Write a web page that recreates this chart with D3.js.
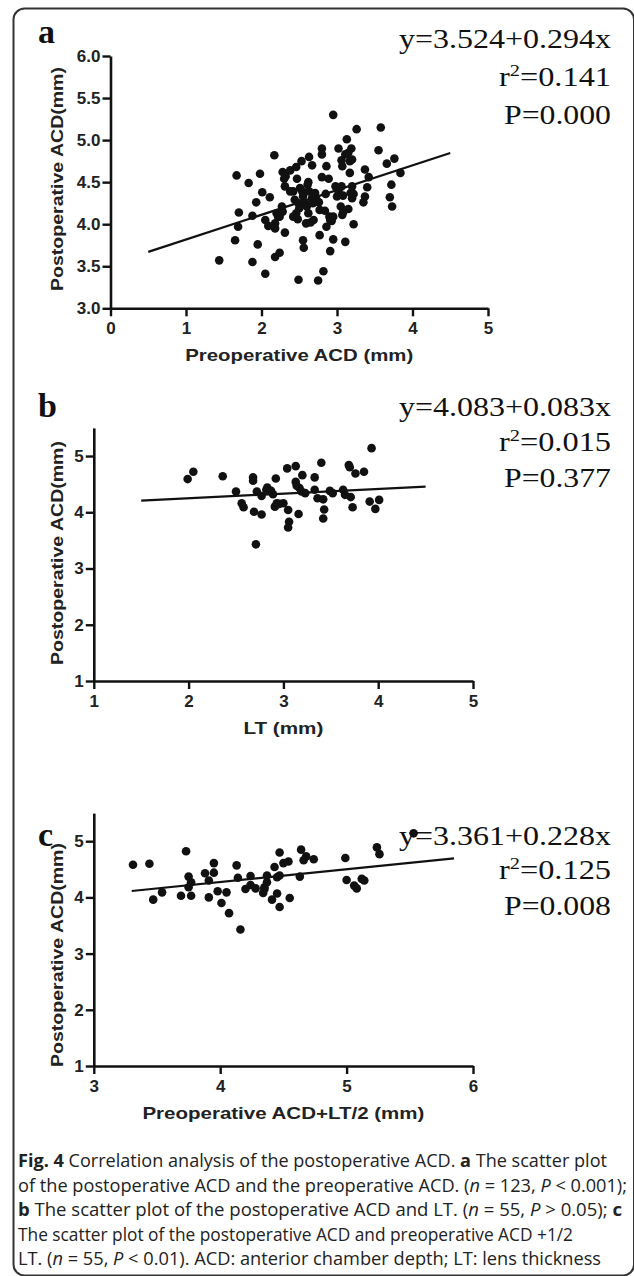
<!DOCTYPE html>
<html><head><meta charset="utf-8">
<script src="https://cdn.jsdelivr.net/npm/d3@7"></script>
<style>html,body{margin:0;padding:0;background:#fff;} svg{display:block;}</style>
</head><body>
<svg id="chart" width="634" height="1276"></svg>
<script>
// ---------- Panel a: Preoperative ACD vs Postoperative ACD ----------
const aX = [1.44,1.67,1.70,1.69,1.65,1.83,1.88,1.88,1.93,1.95,1.98,2.01,2.05,2.05,2.11,2.09,2.17,2.18,2.18,2.18,
  2.24,2.20,2.27,2.28,2.24,2.31,2.28,2.30,2.31,2.38,2.32,2.46,2.47,2.53,2.63,2.67,2.51,2.54,2.55,2.44,
  2.49,2.46,2.48,2.49,2.55,2.56,2.59,2.62,2.63,2.62,2.65,2.67,2.73,2.76,2.80,2.80,2.80,2.77,2.77,2.75,
  2.82,2.86,2.89,2.85,2.86,2.90,2.91,2.95,2.95,2.95,2.98,3.02,3.02,3.06,3.05,3.07,3.06,3.07,3.11,3.13,
  3.11,3.15,3.17,3.19,3.20,3.18,3.20,3.22,3.26,3.20,3.35,3.37,3.37,3.40,3.42,3.55,3.58,3.66,3.76,3.72,
  3.70,3.73,3.84,2.60,2.42,2.58,2.68,2.71,2.61,2.50,2.38,3.08,3.22,3.00,2.84,2.93,3.08,3.17,3.15,2.91,
  2.42,2.22,2.69];
const aY = [3.57,4.58,4.14,3.97,3.81,4.49,4.10,3.55,4.26,3.76,4.60,4.38,4.05,3.41,4.32,3.98,4.82,4.01,3.95,3.61,
  3.66,4.13,4.21,4.15,4.09,3.90,4.62,4.54,4.45,4.64,4.57,4.68,4.54,4.75,4.80,4.70,4.43,4.39,4.33,4.29,
  4.25,4.13,4.06,3.34,3.81,3.72,4.01,4.50,4.39,4.13,4.02,4.31,4.29,4.26,4.90,4.83,4.56,4.17,3.87,3.33,
  3.44,4.69,4.54,4.36,3.97,4.09,3.68,5.30,4.09,3.82,4.45,4.90,4.39,4.45,4.21,4.11,4.76,4.69,4.83,5.01,
  3.79,4.18,4.61,4.90,4.77,4.37,4.31,4.00,5.13,4.45,4.26,4.33,4.65,4.44,4.56,4.88,5.15,4.72,4.78,4.47,
  4.32,4.21,4.61,4.21,4.39,4.25,4.25,4.37,4.47,4.19,4.39,4.34,4.36,4.33,4.16,4.04,4.14,4.75,4.85,4.05,
  4.09,4.09,4.05];
const aFit = [3.524, 0.294];      // intercept, slope
const aFitRange = [0.5, 4.5];
const aXTicks = [0,1,2,3,4,5];
const aYTicks = [3.0,3.5,4.0,4.5,5.0,5.5,6.0];
const aStats = ["y=3.524+0.294x", "0.141", "P=0.000"];

// ---------- Panel b: LT vs Postoperative ACD ----------
const bX = [1.99,2.05,2.36,2.50,2.56,2.58,2.68,2.68,2.69,2.71,2.72,2.77,2.77,2.83,2.87,2.89,2.92,2.91,2.93,2.96,
  3.00,3.04,3.05,3.06,3.05,3.13,3.13,3.16,3.17,3.20,3.19,3.23,3.33,3.33,3.36,3.40,3.42,3.43,3.42,3.49,
  3.52,3.63,3.65,3.69,3.70,3.71,3.73,3.76,3.85,3.91,3.93,3.97,4.01,3.14,2.82];
const bY = [4.59,4.72,4.64,4.37,4.16,4.09,4.62,4.56,4.01,3.43,4.37,4.29,3.96,4.44,4.38,4.32,4.60,4.10,4.16,4.15,
  4.16,4.78,4.04,3.83,3.73,4.82,4.54,3.97,4.43,4.66,4.37,4.34,4.62,4.40,4.25,4.88,4.23,4.05,3.89,4.38,
  4.34,4.40,4.31,4.84,4.80,4.27,4.09,4.69,4.72,4.19,5.14,4.06,4.22,4.47,4.40];
const bFit = [4.083, 0.083];
const bFitRange = [1.5, 4.5];
const bXTicks = [1,2,3,4,5];
const bYTicks = [1,2,3,4,5];
const bStats = ["y=4.083+0.083x", "0.015", "P=0.377"];

// ---------- Panel c: Preoperative ACD+LT/2 vs Postoperative ACD ----------
const cX = [3.31,3.44,3.47,3.54,3.69,3.73,3.75,3.75,3.77,3.77,3.88,3.91,3.91,3.95,3.95,3.98,4.01,4.05,4.07,4.13,
  4.14,4.16,4.20,4.24,4.24,4.28,4.34,4.35,4.37,4.37,4.41,4.43,4.45,4.45,4.47,4.47,4.47,4.50,4.54,4.55,
  4.63,4.64,4.66,4.68,4.74,4.99,5.00,5.06,5.08,5.12,5.14,5.24,5.26,5.53,4.35];
const cY = [4.58,4.60,3.96,4.09,4.03,4.82,4.37,4.18,4.03,4.27,4.43,4.30,4.00,4.61,4.44,4.11,3.90,4.09,3.72,4.57,
  4.35,3.43,4.15,4.38,4.22,4.16,4.08,4.18,4.27,4.39,3.96,4.54,4.36,4.07,4.80,3.83,4.39,4.61,4.64,3.99,
  4.37,4.85,4.66,4.73,4.68,4.70,4.31,4.21,4.16,4.33,4.30,4.89,4.77,5.14,4.15];
const cFit = [3.361, 0.228];
const cFitRange = [3.3, 5.85];
const cXTicks = [3,4,5,6];
const cYTicks = [1,2,3,4,5];
const cStats = ["y=3.361+0.228x", "0.125", "P=0.008"];

const yTitle = "Postoperative ACD(mm)";
const caption = [
  [["Fig. 4", "b"], [" Correlation analysis of the postoperative ACD. ", ""], ["a", "b"], [" The scatter plot", ""]],
  [["of the postoperative ACD and the preoperative ACD. (", ""], ["n", "i"], [" = 123, ", ""], ["P", "i"], [" < 0.001);", ""]],
  [["b", "b"], [" The scatter plot of the postoperative ACD and LT. (", ""], ["n", "i"], [" = 55, ", ""], ["P", "i"], [" > 0.05); ", ""], ["c", "b"]],
  [["The scatter plot of the postoperative ACD and preoperative ACD +1/2", ""]],
  [["LT. (", ""], ["n", "i"], [" = 55, ", ""], ["P", "i"], [" < 0.01). ACD: anterior chamber depth; LT: lens thickness", ""]]
];
const captionWidths = [589, 609, 604, 555, 583];

// ---------- drawing ----------
const svg = d3.select("#chart");
svg.append("rect").attr("x", 13.5).attr("y", 8.5).attr("width", 620.5).attr("height", 1267)
  .attr("rx", 11).attr("fill", "none").attr("stroke", "#333").attr("stroke-width", 2);

const sans = "'Liberation Sans', Arial, sans-serif";
const serif = "'Liberation Serif', 'Times New Roman', serif";

function panel(o) {
  const g = svg.append("g");
  const x = d3.scaleLinear().domain(o.xDomain).range(o.xRange);
  const y = d3.scaleLinear().domain(o.yDomain).range(o.yRange);

  const ya = g.append("g").attr("transform", `translate(${o.xRange[0]},0)`)
    .call(d3.axisLeft(y).tickValues(o.yTicks).tickSize(8).tickSizeOuter(0).tickPadding(2).tickFormat(o.yFmt));
  const xa = g.append("g").attr("transform", `translate(0,${o.yRange[0]})`)
    .call(d3.axisBottom(x).tickValues(o.xTicks).tickSize(8).tickSizeOuter(0).tickPadding(6).tickFormat(d3.format("d")));
  [ya, xa].forEach(a => {
    a.select(".domain").attr("stroke", "#111").attr("stroke-width", 2.6);
    a.selectAll(".tick line").attr("stroke", "#111").attr("stroke-width", 2.4);
    a.selectAll(".tick text").attr("fill", "#222").style("font-family", sans)
      .style("font-weight", "bold").style("font-size", "17px");
  });

  // points
  g.append("g").selectAll("circle").data(o.xs.map((v, i) => [v, o.ys[i]])).join("circle")
    .attr("cx", d => x(d[0])).attr("cy", d => y(d[1])).attr("r", 4.3).attr("fill", "#111");

  // regression line
  g.append("line")
    .attr("x1", x(o.fitRange[0])).attr("y1", y(o.fit[0] + o.fit[1] * o.fitRange[0]))
    .attr("x2", x(o.fitRange[1])).attr("y2", y(o.fit[0] + o.fit[1] * o.fitRange[1]))
    .attr("stroke", "#111").attr("stroke-width", 2.2);

  // axis titles
  g.append("text").attr("transform", `translate(63,${o.yTitleC}) rotate(-90)`)
    .attr("text-anchor", "middle").attr("fill", "#222")
    .style("font-family", sans).style("font-weight", "bold").style("font-size", "17px")
    .attr("textLength", 224).attr("lengthAdjust", "spacingAndGlyphs").text(yTitle);
  const xmid = (o.xRange[0] + o.xRange[1]) / 2;
  g.append("text").attr("x", xmid).attr("y", o.yRange[0] + 53)
    .attr("text-anchor", "middle").attr("fill", "#222")
    .style("font-family", sans).style("font-weight", "bold").style("font-size", "17px")
    .attr("textLength", o.xTitleW).attr("lengthAdjust", "spacingAndGlyphs").text(o.xTitle);

  // panel letter
  g.append("text").attr("x", 38).attr("y", o.labelY).attr("fill", "#111")
    .style("font-family", serif).style("font-weight", "bold").style("font-size", "34px").text(o.label);

  // stats text
  const st = (yy, w) => g.append("text").attr("x", 611).attr("y", yy).attr("text-anchor", "end")
    .attr("fill", "#111").style("font-family", serif).style("font-size", "27px")
    .attr("textLength", w).attr("lengthAdjust", "spacingAndGlyphs");
  st(o.statY[0], 212).text(o.stats[0]);
  const r = st(o.statY[1], 112);
  r.append("tspan").text("r");
  r.append("tspan").attr("dy", -10).style("font-size", "17px").text("2");
  r.append("tspan").attr("dy", 10).text("=" + o.stats[1]);
  st(o.statY[2], 107).text(o.stats[2]);
}

panel({xDomain: [0, 5], xRange: [110.5, 488], yDomain: [3, 6], yRange: [308.3, 56],
  xTicks: aXTicks, yTicks: aYTicks, yFmt: d3.format(".1f"), xs: aX, ys: aY, fit: aFit, fitRange: aFitRange,
  xTitle: "Preoperative ACD (mm)", xTitleW: 228, label: "a", labelY: 43, statY: [48, 86, 124], stats: aStats,
  yTitleC: 179});
panel({xDomain: [1, 5], xRange: [93.8, 473], yDomain: [1, 5.5], yRange: [681, 427.9],
  xTicks: bXTicks, yTicks: bYTicks, yFmt: d3.format("d"), xs: bX, ys: bY, fit: bFit, fitRange: bFitRange,
  xTitle: "LT (mm)", xTitleW: 80, label: "b", labelY: 417, statY: [416, 451, 487], stats: bStats,
  yTitleC: 553});
panel({xDomain: [3, 6], xRange: [93.8, 473], yDomain: [1, 5.5], yRange: [1066, 813.1],
  xTicks: cXTicks, yTicks: cYTicks, yFmt: d3.format("d"), xs: cX, ys: cY, fit: cFit, fitRange: cFitRange,
  xTitle: "Preoperative ACD+LT/2 (mm)", xTitleW: 282, label: "c", labelY: 846, statY: [845, 879, 915], stats: cStats,
  yTitleC: 955});

// caption
const capG = svg.append("g");
caption.forEach((line, i) => {
  const t = capG.append("text").attr("x", 18).attr("y", 1167 + i * 24.6).attr("fill", "#222")
    .style("font-family", "'Open Sans', 'Noto Sans', sans-serif").style("font-size", "18px")
    .attr("textLength", captionWidths[i]).attr("lengthAdjust", "spacingAndGlyphs");
  line.forEach(([s, f]) => {
    const sp = t.append("tspan").text(s);
    if (f === "b") sp.style("font-weight", "bold");
    if (f === "i") sp.style("font-style", "italic");
  });
});
</script>
</body></html>
